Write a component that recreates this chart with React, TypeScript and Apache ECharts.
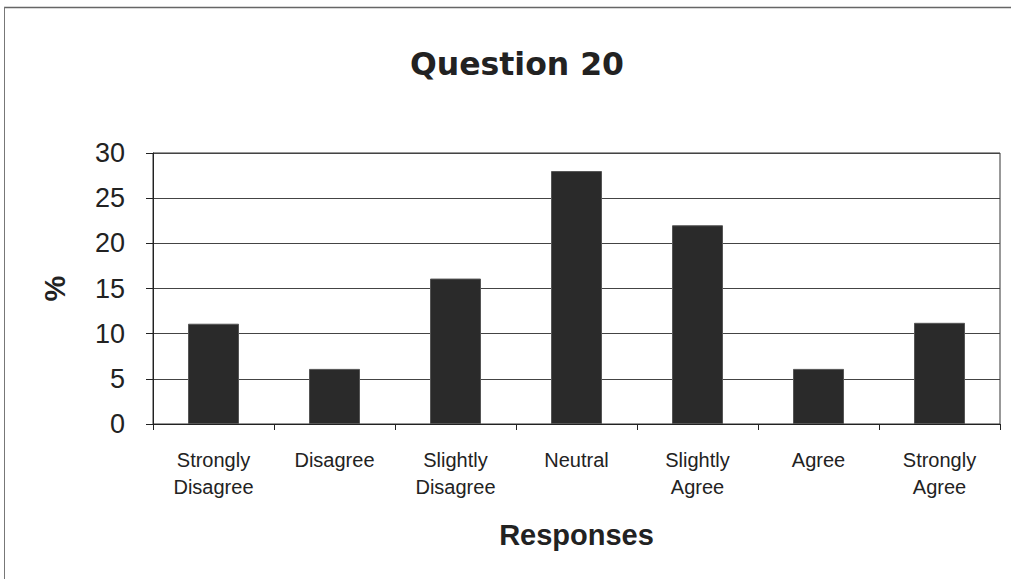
import React, { useEffect, useRef } from "react";
import * as echarts from "echarts";

const categories = [
  "Strongly\nDisagree",
  "Disagree",
  "Slightly\nDisagree",
  "Neutral",
  "Slightly\nAgree",
  "Agree",
  "Strongly\nAgree",
];
const percentValues = [11.1, 6.1, 16.1, 28.0, 22.0, 6.1, 11.2];
const titleText = "Question 20";
const xAxisTitle = "Responses";
const yAxisTitle = "%";

export default function App() {
  const ref = useRef<HTMLDivElement>(null);
  useEffect(() => {
    if (!ref.current) return;
    const chart = echarts.init(ref.current, undefined, { renderer: "svg" });
    chart.setOption({
      animation: false,
      backgroundColor: "#ffffff",
      title: {
        text: titleText,
        left: 405,
        top: 43,
        textStyle: {
          fontFamily: "DejaVu Sans",
          fontWeight: "bold",
          fontSize: 31.5,
          color: "#222",
        },
      },
      graphic: [
        {
          type: "line",
          shape: { x1: 4, y1: 7.5, x2: 1011, y2: 7.5 },
          style: { stroke: "#666", lineWidth: 1.5 },
        },
        {
          type: "line",
          shape: { x1: 4.5, y1: 7, x2: 4.5, y2: 579 },
          style: { stroke: "#777", lineWidth: 1 },
        },
      ],
      grid: {
        left: 153,
        right: 11,
        top: 153,
        bottom: 155,
        show: true,
        borderColor: "#333",
        borderWidth: 1,
      },
      xAxis: {
        type: "category",
        data: categories,
        name: xAxisTitle,
        nameLocation: "middle",
        nameGap: 96,
        nameTextStyle: {
          fontFamily: "Liberation Sans",
          fontWeight: "bold",
          fontSize: 29,
          color: "#222",
        },
        axisLine: { lineStyle: { color: "#222", width: 1 } },
        axisTick: { show: true, length: 6, lineStyle: { color: "#222" } },
        axisLabel: {
          fontFamily: "Liberation Sans",
          fontSize: 20,
          lineHeight: 27,
          color: "#222",
          margin: 22,
          interval: 0,
        },
      },
      yAxis: {
        type: "value",
        min: 0,
        max: 30,
        interval: 5,
        name: yAxisTitle,
        nameLocation: "middle",
        nameGap: 84,
        nameRotate: 90,
        nameTextStyle: {
          fontFamily: "Liberation Sans",
          fontWeight: "bold",
          fontSize: 29,
          color: "#222",
        },
        axisLine: { show: true, lineStyle: { color: "#222", width: 1 } },
        axisTick: { show: true, length: 7, lineStyle: { color: "#222" } },
        axisLabel: {
          fontFamily: "Liberation Sans",
          fontSize: 27,
          color: "#222",
          margin: 28,
        },
        splitLine: { show: true, lineStyle: { color: "#444", width: 1 } },
      },
      series: [
        {
          type: "bar",
          data: percentValues,
          barWidth: 51,
          itemStyle: { color: "#2a2a2a", borderColor: "#555", borderWidth: 1 },
        },
      ],
    });
    return () => chart.dispose();
  }, []);
  return (
    <div
      ref={ref}
      style={{ position: "fixed", left: 0, top: 0, width: 1011, height: 579 }}
    />
  );
}
